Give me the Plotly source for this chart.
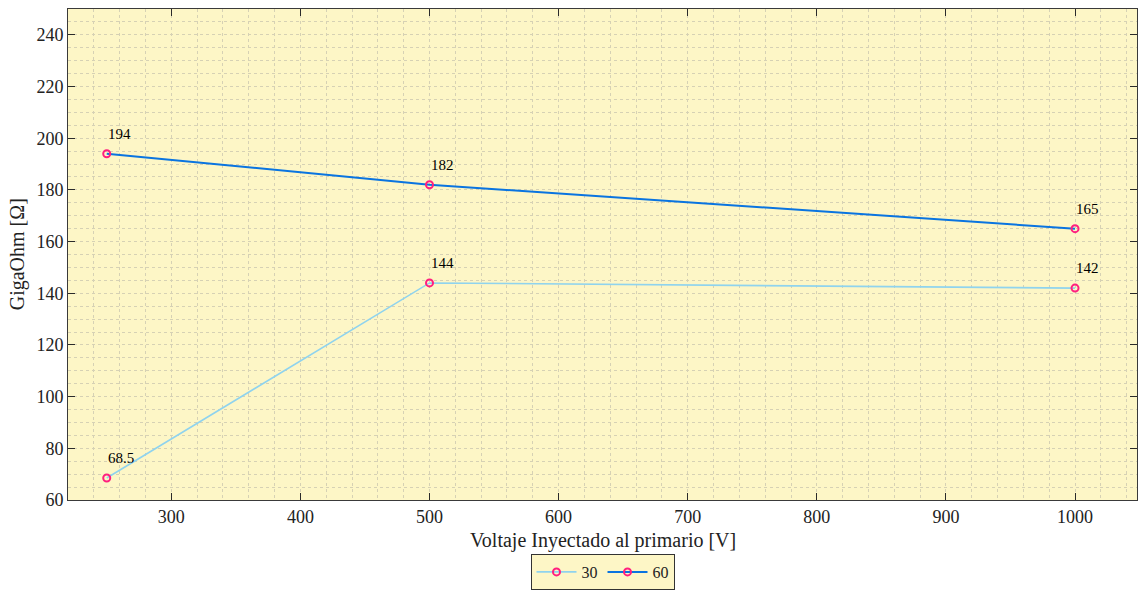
import plotly.graph_objects as go

voltaje = [250, 500, 1000]
serie_30 = [68.5, 144, 142]
serie_60 = [194, 182, 165]
series = [("30", serie_30, "#8FD3EE"), ("60", serie_60, "#0A74E0")]

FONT = "Liberation Serif"
BG = "#FDF6C6"
GRID = "#D6D1B4"
X_TITLE = "Voltaje Inyectado al primario [V]"
Y_TITLE = "GigaOhm [Ω]"

fig = go.Figure()
for name, vals, color in series:
    fig.add_trace(go.Scatter(
        x=voltaje, y=vals, name=name, mode="lines+markers",
        line=dict(color=color, width=2 if name == "60" else 1.6),
        marker=dict(symbol="circle-open", size=7, color="#FF1F7F", line=dict(width=2)),
    ))
    for xv, yv in zip(voltaje, vals):
        fig.add_annotation(x=xv, y=yv, text=f"{yv:g}", showarrow=False,
                           xanchor="left", yanchor="bottom", xshift=-1, yshift=10,
                           font=dict(family=FONT, size=15, color="black"))

axis_common = dict(
    showline=True, linecolor="#3A3A3A", linewidth=1, mirror="ticks",
    ticks="inside", ticklen=7, tickcolor="#2A2A2A",
    showgrid=True, gridcolor=GRID, griddash="dot", gridwidth=1,
    zeroline=False,
    tickfont=dict(family=FONT, size=18, color="#222"),
)

fig.update_xaxes(
    range=[220, 1048], dtick=100, tick0=0,
    minor=dict(dtick=20, showgrid=True, gridcolor=GRID, griddash="dot", ticks=""),
    **axis_common,
)
fig.update_yaxes(
    range=[60, 250], dtick=20, tick0=0,
    minor=dict(dtick=5, showgrid=True, gridcolor=GRID, griddash="dot", ticks=""),
    **axis_common,
)

fig.add_annotation(text=X_TITLE, xref="paper", yref="paper", x=0.5, y=-0.082,
                   xanchor="center", yanchor="middle", showarrow=False,
                   font=dict(family=FONT, size=20, color="#222"))
fig.add_annotation(text=Y_TITLE, xref="paper", yref="paper", x=-0.047, y=0.5,
                   xanchor="center", yanchor="middle", showarrow=False, textangle=-90,
                   font=dict(family=FONT, size=20, color="#222"))

fig.update_layout(
    width=1138, height=590,
    margin=dict(l=68, r=1, t=9, b=90, autoexpand=False),
    plot_bgcolor=BG, paper_bgcolor="white",
    font=dict(family=FONT, color="#222"),
    showlegend=True,
    legend=dict(orientation="h", x=0.5, xanchor="center",
                yref="container", y=0.0, yanchor="bottom",
                bgcolor=BG, bordercolor="#333", borderwidth=1,
                font=dict(family=FONT, size=16, color="#222"),
                itemwidth=40, tracegroupgap=0),
)

fig.write_html("out.html")
